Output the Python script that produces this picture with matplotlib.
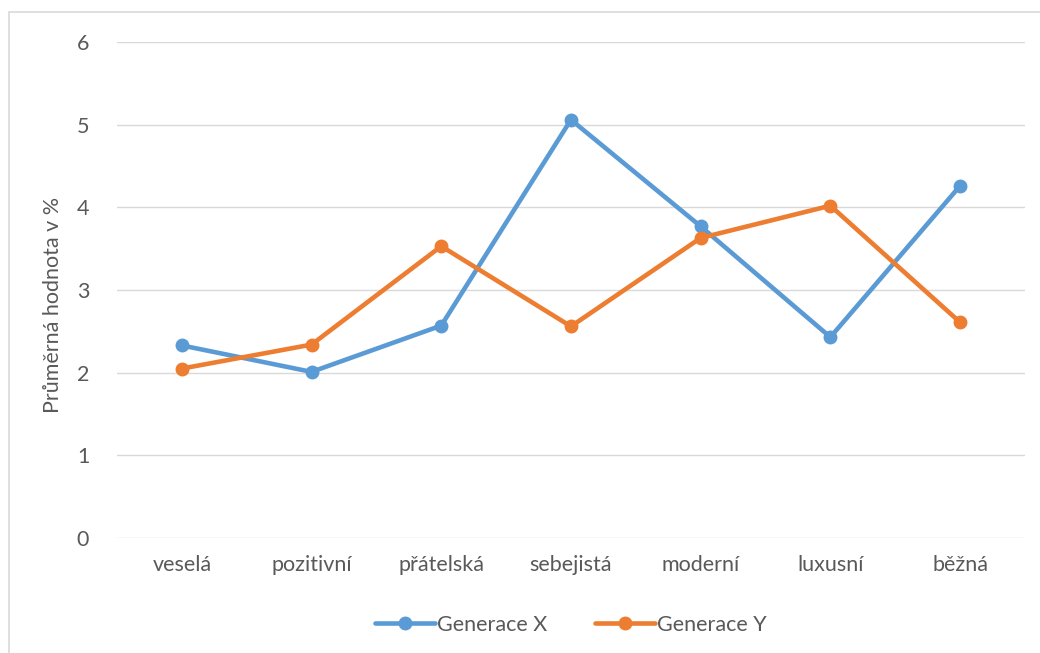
import matplotlib.pyplot as plt
from matplotlib.patches import Rectangle

kategorie = ['veselá', 'pozitivní', 'přátelská', 'sebejistá', 'moderní', 'luxusní', 'běžná']
generace_x = [2.33, 2.01, 2.57, 5.06, 3.77, 2.43, 4.26]
generace_y = [2.05, 2.34, 3.53, 2.56, 3.63, 4.02, 2.61]
y_ticks = [0, 1, 2, 3, 4, 5, 6]

plt.rcParams['font.family'] = ['Lato', 'DejaVu Sans']
text_color = '#595959'

fig = plt.figure(figsize=(10.4, 6.53), dpi=100)
ax = fig.add_axes([0.1125, 0.176, 0.873, 0.7597])

# ramecek kolem celeho grafu
fig.patches.append(Rectangle((0.009, -0.01), 1.0, 0.992, transform=fig.transFigure,
                             fill=False, edgecolor='#D9D9D9', linewidth=1.2))

x = range(len(kategorie))
ax.plot(x, generace_x, color='#5B9BD5', linewidth=3.3, marker='o', markersize=9,
        label='Generace X', solid_capstyle='round', zorder=3)
ax.plot(x, generace_y, color='#ED7D31', linewidth=3.3, marker='o', markersize=9,
        label='Generace Y', solid_capstyle='round', zorder=3)

ax.set_xlim(-0.5, len(kategorie) - 0.5)
ax.set_ylim(0, 6)
ax.set_yticks(y_ticks)
ax.set_xticks(list(x))
ax.set_xticklabels(kategorie)
ax.grid(axis='y', color='#D9D9D9', linewidth=1)
ax.set_axisbelow(True)
for s in ax.spines.values():
    s.set_visible(False)
ax.tick_params(length=0, labelsize=15.5, colors=text_color)
ax.tick_params(axis='y', pad=20)
ax.tick_params(axis='x', pad=12)

ax.set_ylabel('Průměrná hodnota v %', fontsize=15.5, color=text_color)
ax.yaxis.set_label_coords(-0.06, 0.47)

ax.legend(loc='center', bbox_to_anchor=(0.5, -0.175), ncol=2, frameon=False,
          fontsize=15.5, labelcolor=text_color, handlelength=2.8, handletextpad=0.1,
          columnspacing=2.2)

plt.savefig('out.png', dpi=100)
